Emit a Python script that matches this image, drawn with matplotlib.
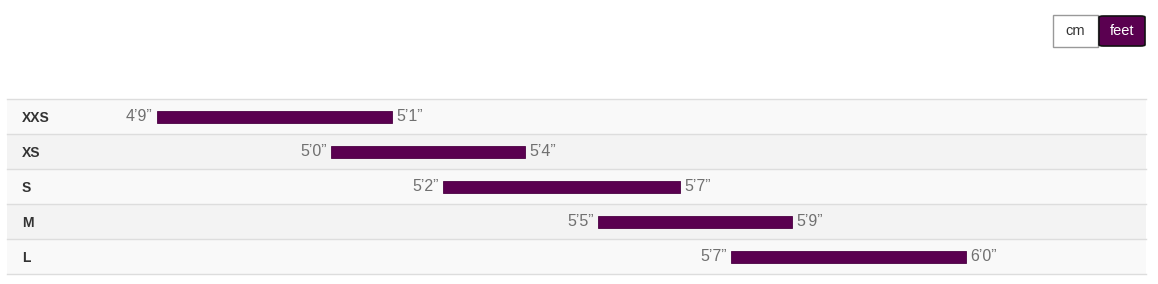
import matplotlib
matplotlib.use("Agg")
import matplotlib.pyplot as plt
from matplotlib.patches import FancyBboxPatch, Rectangle
from matplotlib.transforms import blended_transform_factory

plt.rcParams['font.family'] = ['Liberation Sans', 'DejaVu Sans']

sizes = ["XXS", "XS", "S", "M", "L"]
min_labels = ["4\u20199\u201d", "5\u20190\u201d", "5\u20192\u201d", "5\u20195\u201d", "5\u20197\u201d"]
max_labels = ["5\u20191\u201d", "5\u20194\u201d", "5\u20197\u201d", "5\u20199\u201d", "6\u20190\u201d"]
# bar extents (cm scale)
bar_start = [145.0, 153.9, 159.6, 167.5, 174.3]
bar_end = [157.0, 163.8, 171.7, 177.4, 186.3]

W, H = 1158, 284
fig = plt.figure(figsize=(W / 100, H / 100), dpi=100)
fig.patch.set_facecolor("white")

purple = "#5a0050"

# table axes
left_px, right_px, top_px, bot_px = 7, 1146, 98.5, 273.5
ax = fig.add_axes([left_px / W, (H - bot_px) / H, (right_px - left_px) / W, (bot_px - top_px) / H])
ax.set_xlim(137.35, 195.46)
ax.set_ylim(len(sizes), 0)
ax.axis("off")

row_colors = ["#f9f9f9", "#f3f3f3"]
for i in range(len(sizes)):
    ax.add_patch(Rectangle((0, i), 1, 1, transform=blended_transform_factory(ax.transAxes, ax.transData),
                           facecolor=row_colors[i % 2], edgecolor="none", zorder=0))
for i in range(len(sizes) + 1):
    ax.axhline(i, color="#dddddd", lw=1.0, zorder=1, clip_on=False)

bh = 0.35
yc = [i + 0.52 for i in range(len(sizes))]
ax.barh(yc, [e - s for s, e in zip(bar_start, bar_end)],
        left=bar_start, height=bh, color=purple, edgecolor="#4a0042", linewidth=0.6, zorder=2)

lab_tr = blended_transform_factory(fig.transFigure, ax.transData)
for i, name in enumerate(sizes):
    y = yc[i]
    ax.text(22 / W, y + 0.03, name, transform=lab_tr, ha="left", va="center", fontsize=10,
            fontweight="bold", color="#333333")
    ax.annotate(min_labels[i], (bar_start[i], y), xytext=(-3, 0), textcoords="offset points",
                ha="right", va="center", fontsize=11.5, color="#707070")
    ax.annotate(max_labels[i], (bar_end[i], y), xytext=(3, 0), textcoords="offset points",
                ha="left", va="center", fontsize=11.5, color="#707070")

# unit toggle buttons
def fx(p):
    return p / W

def fy(p):
    return (H - p) / H

fig.patches.append(Rectangle((fx(1053), fy(47)), fx(1098) - fx(1053), fy(15) - fy(47),
                             transform=fig.transFigure, facecolor="white", edgecolor="#999999", lw=1.0))
fig.patches.append(FancyBboxPatch((fx(1099), fy(46)), fx(1145) - fx(1099), fy(16) - fy(46),
                                  boxstyle="round,pad=0,rounding_size=0.004",
                                  transform=fig.transFigure, facecolor=purple, edgecolor="#111111", lw=1.2))
fig.text(fx(1075.5), fy(31), "cm", ha="center", va="center", fontsize=10.5, color="#333333")
fig.text(fx(1122), fy(31), "feet", ha="center", va="center", fontsize=10.5, color="white")

fig.savefig("out.png", dpi=100, facecolor="white")
